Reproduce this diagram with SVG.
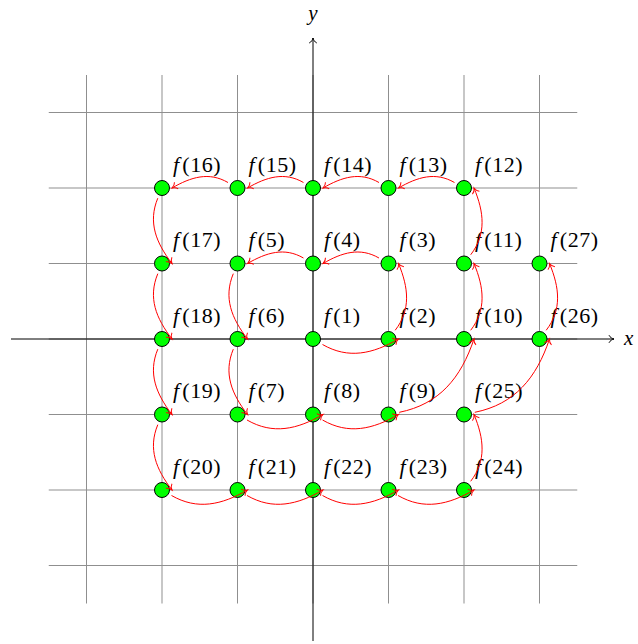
<svg xmlns="http://www.w3.org/2000/svg" width="638" height="644" viewBox="0 0 638 644">
<style>
.grid{stroke:#8f8f8f;stroke-width:1;fill:none}
.axis{stroke:#000;stroke-width:1;fill:none}
.nd{fill:#00ff00;stroke:#000;stroke-width:1}
.lb{font-family:"Liberation Serif",serif;font-size:22px;fill:#000;letter-spacing:0.6px}
.ax{font-family:"Liberation Serif",serif;font-size:21px;fill:#000;font-style:italic}
.it{font-style:italic}
.arr{fill:none;stroke:#ff0000;stroke-width:1;marker-end:url(#ah)}
</style>
<defs>
<marker id="ah" markerUnits="userSpaceOnUse" markerWidth="10" markerHeight="10" refX="0" refY="0" orient="auto" overflow="visible">
<path d="M-5,-3.8 C-4,-1.5 -1.5,-0.4 0,0 C-1.5,0.4 -4,1.5 -5,3.8" fill="none" stroke="#ff0000" stroke-width="1"/>
</marker>
<marker id="ax" markerUnits="userSpaceOnUse" markerWidth="10" markerHeight="10" refX="0" refY="0" orient="auto" overflow="visible">
<path d="M-5,-3.8 C-4,-1.5 -1.5,-0.4 0,0 C-1.5,0.4 -4,1.5 -5,3.8" fill="none" stroke="#000" stroke-width="1"/>
</marker>
</defs>
<rect width="638" height="644" fill="#fff"/>
<g id="grid" class="grid">
<path d="M86.5,75V603.5M162,75V603.5M237.5,75V603.5M313,75V603.5M388.5,75V603.5M464,75V603.5M539.5,75V603.5"/>
<path d="M48.75,112.5H577.25M48.75,188H577.25M48.75,263.5H577.25M48.75,339H577.25M48.75,414.5H577.25M48.75,490H577.25M48.75,565.5H577.25"/>
</g>
<g id="axes">
<path class="axis" d="M11,339H614" marker-end="url(#ax)"/>
<path class="axis" d="M313,641V38" marker-end="url(#ax)"/>
<text class="ax" x="624" y="345">x</text>
<text class="ax" x="313" y="20" text-anchor="middle">y</text>
</g>
<g id="nodes">
<g id="n1" transform="translate(313,339)"><circle class="nd" r="7.5"/><text class="lb" x="11" y="-16.5"><tspan class="it">f</tspan><tspan dx="2.5">(1)</tspan></text></g>
<g id="n2" transform="translate(388.5,339)"><circle class="nd" r="7.5"/><text class="lb" x="11" y="-16.5"><tspan class="it">f</tspan><tspan dx="2.5">(2)</tspan></text></g>
<g id="n3" transform="translate(388.5,263.5)"><circle class="nd" r="7.5"/><text class="lb" x="11" y="-16.5"><tspan class="it">f</tspan><tspan dx="2.5">(3)</tspan></text></g>
<g id="n4" transform="translate(313,263.5)"><circle class="nd" r="7.5"/><text class="lb" x="11" y="-16.5"><tspan class="it">f</tspan><tspan dx="2.5">(4)</tspan></text></g>
<g id="n5" transform="translate(237.5,263.5)"><circle class="nd" r="7.5"/><text class="lb" x="11" y="-16.5"><tspan class="it">f</tspan><tspan dx="2.5">(5)</tspan></text></g>
<g id="n6" transform="translate(237.5,339)"><circle class="nd" r="7.5"/><text class="lb" x="11" y="-16.5"><tspan class="it">f</tspan><tspan dx="2.5">(6)</tspan></text></g>
<g id="n7" transform="translate(237.5,414.5)"><circle class="nd" r="7.5"/><text class="lb" x="11" y="-16.5"><tspan class="it">f</tspan><tspan dx="2.5">(7)</tspan></text></g>
<g id="n8" transform="translate(313,414.5)"><circle class="nd" r="7.5"/><text class="lb" x="11" y="-16.5"><tspan class="it">f</tspan><tspan dx="2.5">(8)</tspan></text></g>
<g id="n9" transform="translate(388.5,414.5)"><circle class="nd" r="7.5"/><text class="lb" x="11" y="-16.5"><tspan class="it">f</tspan><tspan dx="2.5">(9)</tspan></text></g>
<g id="n10" transform="translate(464,339)"><circle class="nd" r="7.5"/><text class="lb" x="11" y="-16.5"><tspan class="it">f</tspan><tspan dx="2.5">(10)</tspan></text></g>
<g id="n11" transform="translate(464,263.5)"><circle class="nd" r="7.5"/><text class="lb" x="11" y="-16.5"><tspan class="it">f</tspan><tspan dx="2.5">(11)</tspan></text></g>
<g id="n12" transform="translate(464,188)"><circle class="nd" r="7.5"/><text class="lb" x="11" y="-16.5"><tspan class="it">f</tspan><tspan dx="2.5">(12)</tspan></text></g>
<g id="n13" transform="translate(388.5,188)"><circle class="nd" r="7.5"/><text class="lb" x="11" y="-16.5"><tspan class="it">f</tspan><tspan dx="2.5">(13)</tspan></text></g>
<g id="n14" transform="translate(313,188)"><circle class="nd" r="7.5"/><text class="lb" x="11" y="-16.5"><tspan class="it">f</tspan><tspan dx="2.5">(14)</tspan></text></g>
<g id="n15" transform="translate(237.5,188)"><circle class="nd" r="7.5"/><text class="lb" x="11" y="-16.5"><tspan class="it">f</tspan><tspan dx="2.5">(15)</tspan></text></g>
<g id="n16" transform="translate(162,188)"><circle class="nd" r="7.5"/><text class="lb" x="11" y="-16.5"><tspan class="it">f</tspan><tspan dx="2.5">(16)</tspan></text></g>
<g id="n17" transform="translate(162,263.5)"><circle class="nd" r="7.5"/><text class="lb" x="11" y="-16.5"><tspan class="it">f</tspan><tspan dx="2.5">(17)</tspan></text></g>
<g id="n18" transform="translate(162,339)"><circle class="nd" r="7.5"/><text class="lb" x="11" y="-16.5"><tspan class="it">f</tspan><tspan dx="2.5">(18)</tspan></text></g>
<g id="n19" transform="translate(162,414.5)"><circle class="nd" r="7.5"/><text class="lb" x="11" y="-16.5"><tspan class="it">f</tspan><tspan dx="2.5">(19)</tspan></text></g>
<g id="n20" transform="translate(162,490)"><circle class="nd" r="7.5"/><text class="lb" x="11" y="-16.5"><tspan class="it">f</tspan><tspan dx="2.5">(20)</tspan></text></g>
<g id="n21" transform="translate(237.5,490)"><circle class="nd" r="7.5"/><text class="lb" x="11" y="-16.5"><tspan class="it">f</tspan><tspan dx="2.5">(21)</tspan></text></g>
<g id="n22" transform="translate(313,490)"><circle class="nd" r="7.5"/><text class="lb" x="11" y="-16.5"><tspan class="it">f</tspan><tspan dx="2.5">(22)</tspan></text></g>
<g id="n23" transform="translate(388.5,490)"><circle class="nd" r="7.5"/><text class="lb" x="11" y="-16.5"><tspan class="it">f</tspan><tspan dx="2.5">(23)</tspan></text></g>
<g id="n24" transform="translate(464,490)"><circle class="nd" r="7.5"/><text class="lb" x="11" y="-16.5"><tspan class="it">f</tspan><tspan dx="2.5">(24)</tspan></text></g>
<g id="n25" transform="translate(464,414.5)"><circle class="nd" r="7.5"/><text class="lb" x="11" y="-16.5"><tspan class="it">f</tspan><tspan dx="2.5">(25)</tspan></text></g>
<g id="n26" transform="translate(539.5,339)"><circle class="nd" r="7.5"/><text class="lb" x="11" y="-16.5"><tspan class="it">f</tspan><tspan dx="2.5">(26)</tspan></text></g>
<g id="n27" transform="translate(539.5,263.5)"><circle class="nd" r="7.5"/><text class="lb" x="11" y="-16.5"><tspan class="it">f</tspan><tspan dx="2.5">(27)</tspan></text></g>
</g>
<g id="connectors">
<path class="arr" transform="translate(313,339)" d="M9.53,5.5 C35.35,20.41 59.68,14.91 85.5,0"/>
<path class="arr" transform="translate(388.5,339)" d="M6.7,-8.72 C22.64,-29.48 20,-51.31 10,-75.5"/>
<path class="arr" transform="translate(388.5,263.5)" d="M-9.53,-5.5 C-28.6,-16.51 -46.43,-11.01 -65.5,0"/>
<path class="arr" transform="translate(313,263.5)" d="M-9.53,-5.5 C-28.6,-16.51 -46.43,-11.01 -65.5,0"/>
<path class="arr" transform="translate(237.5,263.5)" d="M-4.2,10.16 C-14.2,34.35 -5.94,54.74 10,75.5"/>
<path class="arr" transform="translate(237.5,339)" d="M-4.2,10.16 C-14.2,34.35 -5.94,54.74 10,75.5"/>
<path class="arr" transform="translate(237.5,414.5)" d="M9.53,5.5 C35.35,20.41 59.68,14.91 85.5,0"/>
<path class="arr" transform="translate(313,414.5)" d="M9.53,5.5 C35.35,20.41 59.68,14.91 85.5,0"/>
<path class="arr" transform="translate(388.5,414.5)" d="M10.78,-2.18 C50.95,-10.31 72.46,-36.64 85.5,-75.5"/>
<path class="arr" transform="translate(464,339)" d="M6.7,-8.72 C22.64,-29.48 20,-51.31 10,-75.5"/>
<path class="arr" transform="translate(464,263.5)" d="M6.7,-8.72 C22.64,-29.48 20,-51.31 10,-75.5"/>
<path class="arr" transform="translate(464,188)" d="M-9.53,-5.5 C-28.6,-16.51 -46.43,-11.01 -65.5,0"/>
<path class="arr" transform="translate(388.5,188)" d="M-9.53,-5.5 C-28.6,-16.51 -46.43,-11.01 -65.5,0"/>
<path class="arr" transform="translate(313,188)" d="M-9.53,-5.5 C-28.6,-16.51 -46.43,-11.01 -65.5,0"/>
<path class="arr" transform="translate(237.5,188)" d="M-9.53,-5.5 C-28.6,-16.51 -46.43,-11.01 -65.5,0"/>
<path class="arr" transform="translate(162,188)" d="M-4.2,10.16 C-14.2,34.35 -5.94,54.74 10,75.5"/>
<path class="arr" transform="translate(162,263.5)" d="M-4.2,10.16 C-14.2,34.35 -5.94,54.74 10,75.5"/>
<path class="arr" transform="translate(162,339)" d="M-4.2,10.16 C-14.2,34.35 -5.94,54.74 10,75.5"/>
<path class="arr" transform="translate(162,414.5)" d="M-4.2,10.16 C-14.2,34.35 -5.94,54.74 10,75.5"/>
<path class="arr" transform="translate(162,490)" d="M9.53,5.5 C35.35,20.41 59.68,14.91 85.5,0"/>
<path class="arr" transform="translate(237.5,490)" d="M9.53,5.5 C35.35,20.41 59.68,14.91 85.5,0"/>
<path class="arr" transform="translate(313,490)" d="M9.53,5.5 C35.35,20.41 59.68,14.91 85.5,0"/>
<path class="arr" transform="translate(388.5,490)" d="M9.53,5.5 C35.35,20.41 59.68,14.91 85.5,0"/>
<path class="arr" transform="translate(464,490)" d="M6.7,-8.72 C22.64,-29.48 20,-51.31 10,-75.5"/>
<path class="arr" transform="translate(464,414.5)" d="M10.78,-2.18 C50.95,-10.31 72.46,-36.64 85.5,-75.5"/>
<path class="arr" transform="translate(539.5,339)" d="M6.7,-8.72 C22.64,-29.48 20,-51.31 10,-75.5"/>
</g>
</svg>
